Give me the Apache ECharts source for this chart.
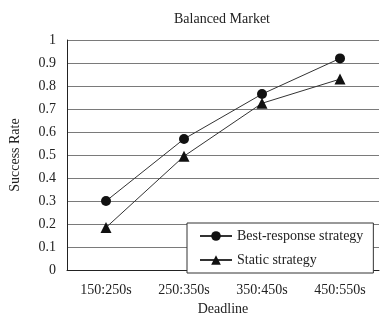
<!DOCTYPE html>
<html>
<head>
<meta charset="utf-8">
<script src="https://cdn.jsdelivr.net/npm/echarts@6/dist/echarts.min.js"></script>
<style>html,body{margin:0;padding:0;background:#fff}#c{width:380px;height:321px}</style>
</head>
<body>
<div id="c"></div>
<script>
const categories = ['150:250s', '250:350s', '350:450s', '450:550s'];
const bestResponse = [0.30, 0.57, 0.765, 0.92];
const staticStrategy = [0.185, 0.495, 0.725, 0.83];
const seriesNames = ['Best-response strategy', 'Static strategy'];

const font = 'Liberation Serif';
const chart = echarts.init(document.getElementById('c'), null, {renderer: 'canvas'});
chart.setOption({
  animation: false,
  backgroundColor: '#fff',
  title: {
    text: 'Balanced Market', left: 217, top: 7, textAlign: 'center',
    textStyle: {fontFamily: font, fontSize: 14, fontWeight: 'normal', color: '#222'}
  },
  grid: {left: 63, right: 1, top: 40, bottom: 43},
  legend: {
    orient: 'vertical', left: 187, top: 223,
    data: seriesNames,
    itemWidth: 32, itemHeight: 12, itemGap: 10,
    padding: [6, 10, 6, 12],
    borderColor: '#333', borderWidth: 1, backgroundColor: '#fff',
    textStyle: {fontFamily: font, fontSize: 14, color: '#222'}
  },
  xAxis: {
    type: 'category', data: categories,
    name: 'Deadline', nameLocation: 'middle', nameGap: 31,
    nameTextStyle: {fontFamily: font, fontSize: 14, color: '#222'},
    axisLine: {lineStyle: {color: '#222', width: 1}},
    axisTick: {inside: true, length: 5, lineStyle: {color: '#222'}},
    axisLabel: {fontFamily: font, fontSize: 14, color: '#222', margin: 13}
  },
  yAxis: {
    type: 'value', min: 0, max: 1, interval: 0.1,
    name: 'Success Rate', nameLocation: 'middle', nameGap: 45,
    nameTextStyle: {fontFamily: font, fontSize: 14, color: '#222'},
    axisLine: {show: true, lineStyle: {color: '#222', width: 1}},
    axisTick: {show: false},
    axisLabel: {fontFamily: font, fontSize: 14, color: '#222', margin: 11,
      formatter: v => String(Math.round(v * 10) / 10)},
    splitLine: {lineStyle: {color: '#7a7a7a', width: 1}}
  },
  series: [
    {name: seriesNames[0], type: 'line', data: bestResponse, symbol: 'circle', symbolSize: 10,
     itemStyle: {color: '#111'}, lineStyle: {color: '#333', width: 1}},
    {name: seriesNames[1], type: 'line', data: staticStrategy, symbol: 'triangle', symbolSize: 11,
     itemStyle: {color: '#111'}, lineStyle: {color: '#333', width: 1}}
  ]
});
</script>
</body>
</html>
